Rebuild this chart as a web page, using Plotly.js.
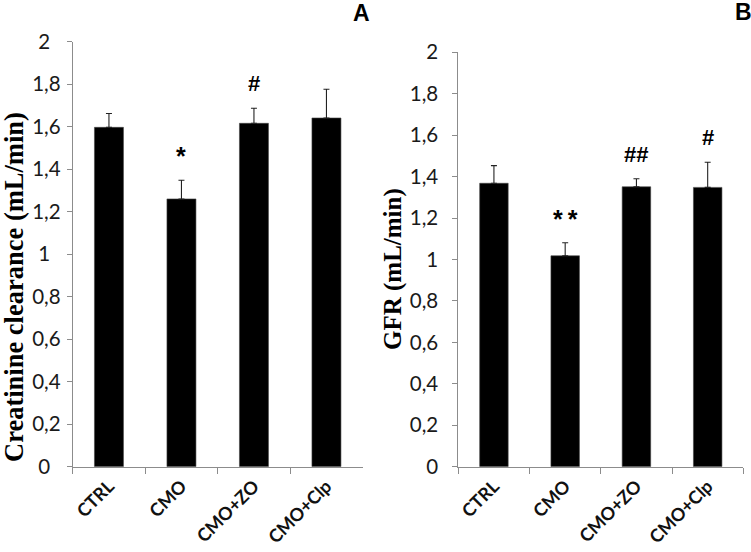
<!DOCTYPE html>
<html>
<head>
<meta charset="utf-8">
<script src="https://cdn.plot.ly/plotly-3.0.1.min.js"></script>
<style>
html,body{margin:0;padding:0;background:#fff;}
#chart{width:751px;height:552px;}
</style>
</head>
<body>
<div id="chart"></div>
<script>
// ---- data ----
const categories = ['CTRL', 'CMO', 'CMO+ZO', 'CMO+Clp'];
const clearanceValues = [1.597, 1.26, 1.616, 1.641];
const clearanceErrors = [0.065, 0.088, 0.071, 0.135];
const gfrValues = [1.368, 1.018, 1.351, 1.348];
const gfrErrors = [0.085, 0.063, 0.039, 0.121];
const clearanceMarks = ['', '*', '#', ''];
const gfrMarks = ['', '**', '##', '#'];
const yTickVals = [0, 0.2, 0.4, 0.6, 0.8, 1, 1.2, 1.4, 1.6, 1.8, 2];
const yTickText = ['0', '0,2', '0,4', '0,6', '0,8', '1', '1,2', '1,4', '1,6', '1,8', '2'];
const panelLabels = ['A', 'B'];
const yTitles = ['Creatinine clearance (mL/min)', 'GFR (mL/min)'];

// ---- layout helpers ----
const W = 751, H = 552;
const axisGray = '#8c8c8c';
const tickFont = {family: 'Lato, "Open Sans", sans-serif', size: 20.5, color: '#1a1a1a'};
const xTickFont = {family: 'Lato, "Open Sans", sans-serif', size: 18, color: '#111', weight: 'bold'};

function barTrace(vals, errs, xa, ya) {
  return {
    type: 'bar', x: categories, y: vals, xaxis: xa, yaxis: ya,
    marker: {color: '#000', line: {color: '#444', width: 0.6}},
    error_y: {type: 'data', symmetric: false, array: errs,
              arrayminus: errs.map(() => 0), color: '#222', thickness: 1.1, width: 3},
    hoverinfo: 'skip', showlegend: false
  };
}

const data = [
  barTrace(clearanceValues, clearanceErrors, 'x', 'y'),
  barTrace(gfrValues, gfrErrors, 'x2', 'y2')
];

function xAxis(dom, anchor) {
  return {domain: dom, anchor: anchor, type: 'category', range: [-0.5, 3.5],
    showline: true, linecolor: axisGray, linewidth: 1,
    ticks: 'outside', tickson: 'boundaries', ticklen: 6, tickcolor: axisGray, tickwidth: 1,
    ticklabelstandoff: 1,
    tickangle: -45, tickfont: xTickFont, showgrid: false, zeroline: false, fixedrange: true};
}
function yAxis(dom, anchor, text, standoff) {
  return {domain: dom, anchor: anchor, range: [0, 2],
    tickvals: yTickVals, ticktext: text, ticklabelstandoff: standoff,
    showline: true, linecolor: axisGray, linewidth: 1,
    ticks: 'outside', ticklen: 5, tickcolor: axisGray, tickwidth: 1,
    tickfont: tickFont, showgrid: false, zeroline: false, fixedrange: true};
}
// left panel: integer labels sit a little further from the axis (as in the reference)
const leftTickText = yTickText.map(t => t.indexOf(',') < 0 ? t + '\u00A0\u00A0' : t);

const annotations = [];
function addMarks(vals, errs, marks, xref, yref) {
  marks.forEach((m, i) => {
    if (!m) return;
    const star = m.indexOf('*') >= 0;
    annotations.push({xref: xref, yref: yref, x: categories[i], y: vals[i] + errs[i],
      text: m.replace('**', '*\u2009*'), showarrow: false, yanchor: 'bottom',
      yshift: star ? 8 : 10,
      font: {family: '"Liberation Sans", Arial, sans-serif', size: star ? 25 : 22,
             color: '#000', weight: 'bold'}});
  });
}
addMarks(clearanceValues, clearanceErrors, clearanceMarks, 'x', 'y');
addMarks(gfrValues, gfrErrors, gfrMarks, 'x2', 'y2');

const letterFont = {family: '"Liberation Sans", Arial, sans-serif', size: 23, color: '#000', weight: 'bold'};
annotations.push({xref: 'paper', yref: 'paper', x: 361 / W, y: 1 - 12.5 / H, text: panelLabels[0],
  showarrow: false, xanchor: 'center', yanchor: 'middle', font: letterFont});
annotations.push({xref: 'paper', yref: 'paper', x: 743 / W, y: 1 - 11.5 / H, text: panelLabels[1],
  showarrow: false, xanchor: 'center', yanchor: 'middle', font: letterFont});
annotations.push({xref: 'paper', yref: 'paper', x: 13.5 / W, y: 1 - 287.5 / H, text: yTitles[0],
  showarrow: false, textangle: -90, xanchor: 'center', yanchor: 'middle',
  font: {family: '"Liberation Serif", "Times New Roman", serif', size: 26.5, color: '#000', weight: 'bold'}});
annotations.push({xref: 'paper', yref: 'paper', x: 393 / W, y: 1 - 269 / H, text: yTitles[1],
  showarrow: false, textangle: -90, xanchor: 'center', yanchor: 'middle',
  font: {family: '"Liberation Serif", "Times New Roman", serif', size: 25, color: '#000', weight: 'bold'}});

const layout = {
  width: W, height: H,
  margin: {l: 0, r: 0, t: 0, b: 0, autoexpand: false},
  paper_bgcolor: '#fff', plot_bgcolor: '#fff',
  bargap: 0.6,
  xaxis: xAxis([72.7 / W, 362.7 / W], 'y'),
  yaxis: yAxis([1 - 466.7 / H, 1 - 41.7 / H], 'x', leftTickText, 2),
  xaxis2: xAxis([458.3 / W, 743.3 / W], 'y2'),
  yaxis2: yAxis([1 - 466.7 / H, 1 - 52.3 / H], 'x2', yTickText, 10),
  annotations: annotations,
  showlegend: false
};

Plotly.newPlot('chart', data, layout, {staticPlot: true, displayModeBar: false});
</script>
</body>
</html>
